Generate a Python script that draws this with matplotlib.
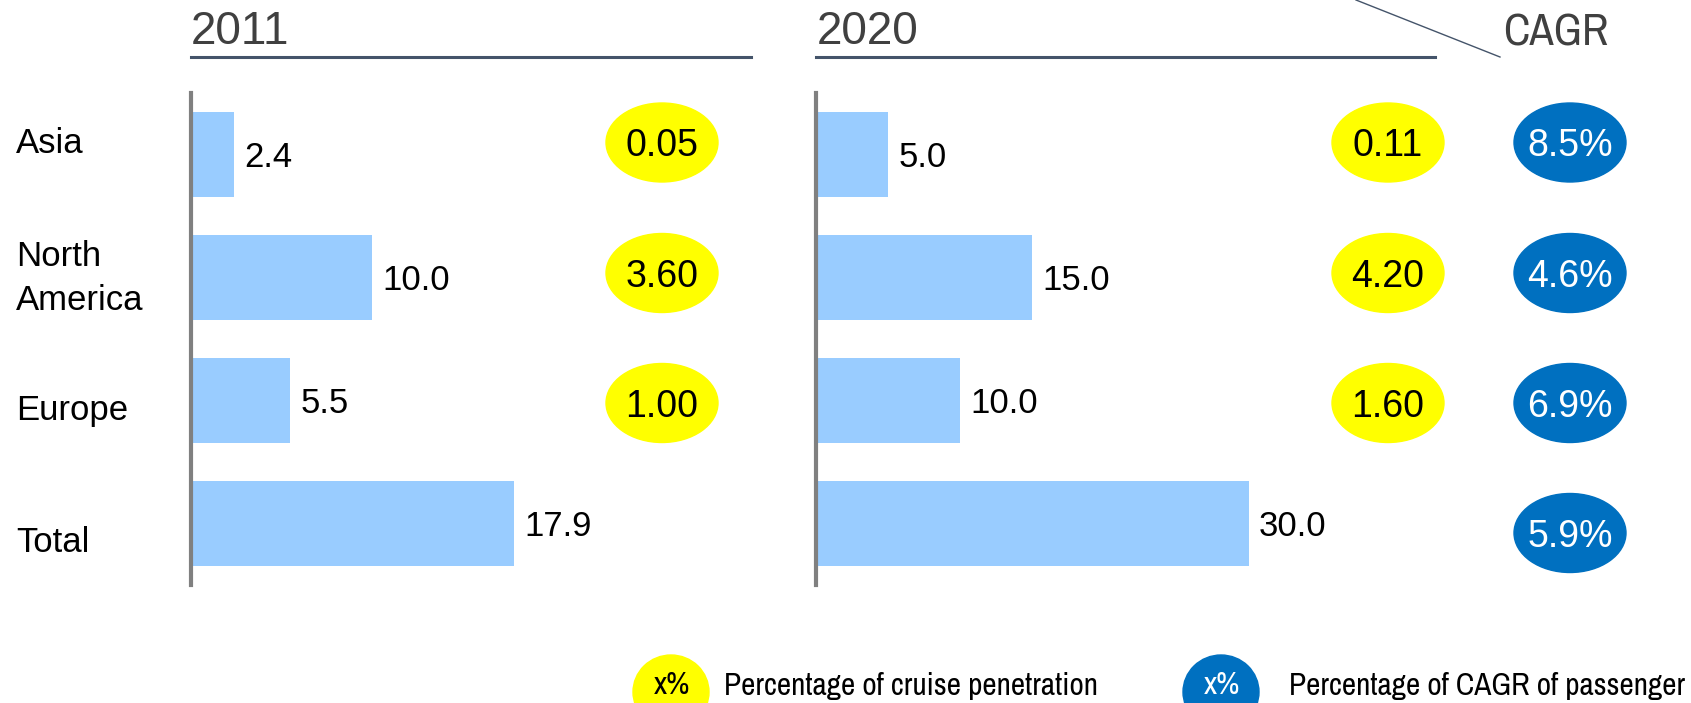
import matplotlib
matplotlib.use("Agg")
import matplotlib.pyplot as plt
from matplotlib.patches import Ellipse

plt.rcParams['font.family'] = ['Liberation Sans', 'DejaVu Sans']
NARROW = ['Archivo Narrow', 'Roboto Condensed', 'Liberation Sans']

# data
regions = ['Asia', 'North\nAmerica', 'Europe', 'Total']
pax_2011 = [2.4, 10.0, 5.5, 17.9]
pax_2020 = [5.0, 15.0, 10.0, 30.0]
penetration_2011 = ['0.05', '3.60', '1.00']
penetration_2020 = ['0.11', '4.20', '1.60']
cagr = ['8.5%', '4.6%', '6.9%', '5.9%']

W, H = 1691, 703
fig = plt.figure(figsize=(W / 100, H / 100), dpi=100)

BAR = '#99CCFF'
YEL = '#FFFF00'
BLUE = '#0070C0'
LINE = '#44546A'
TXT = '#404040'


def px_axes(left, top, width, height):
    return fig.add_axes([left / W, 1 - (top + height) / H, width / W, height / H])


def bar_panel(left, width, scale, values):
    ax = px_axes(left, 93, width, 492)
    ax.barh(range(len(values)), values, height=0.69, color=BAR, zorder=1)
    ax.set_ylim(3.5, -0.5)
    ax.set_xlim(0, width / scale)
    for s in ['top', 'right', 'bottom']:
        ax.spines[s].set_visible(False)
    ax.spines['left'].set_color('#808080')
    ax.spines['left'].set_linewidth(3)
    ax.set_xticks([])
    ax.set_yticks([])
    ax.patch.set_alpha(0)
    for i, v in enumerate(values):
        ax.annotate(f'{v:.1f}', (v, i), xytext=(7.5, -9), textcoords='offset points',
                    va='baseline', ha='left', fontsize=25, color='black')
    return ax


ax1 = bar_panel(191, 560, 18.05, pax_2011)
ax2 = bar_panel(816, 620, 14.42, pax_2020)

# overlay for titles, labels, bubbles (pixel coordinates)
ov = fig.add_axes([0, 0, 1, 1])
ov.set_xlim(0, W)
ov.set_ylim(H, 0)
ov.axis('off')
ov.patch.set_alpha(0)

ov.text(191, 44, '2011', fontsize=33, color=TXT, va='baseline', ha='left')
ov.text(817, 44, '2020', fontsize=33, color=TXT, va='baseline', ha='left')
ov.plot([191, 751], [57, 57], color=LINE, lw=2.2)
ov.plot([816, 1435], [57, 57], color=LINE, lw=2.2)
ov.plot([1356, 1500], [0, 57], color=LINE, lw=1.0)
ov.text(1503, 45, 'CAGR', fontsize=32, color=TXT, va='baseline', ha='left', family=NARROW)

rows = [142.5, 273, 403, 533]
# baseline of the last line of each label
label_base = [153, 310, 420, 552]
for lab, y in zip(regions, label_base):
    ov.text(16, y, lab, fontsize=25, color='black', va='baseline', ha='left', linespacing=1.43)

for col_x, vals in [(662, penetration_2011), (1388, penetration_2020)]:
    for v, y in zip(vals, rows):
        ov.add_patch(Ellipse((col_x, y), 112, 79, color=YEL, zorder=2))
        ov.text(col_x, y + 14, v, fontsize=27, color='black', ha='center', va='baseline', zorder=3)

for v, y in zip(cagr, rows):
    ov.add_patch(Ellipse((1570, y), 112, 79, color=BLUE, zorder=2))
    ov.text(1570, y + 14, v, fontsize=27, color='white', ha='center', va='baseline', zorder=3)

# legend
ov.add_patch(Ellipse((671, 692), 76, 74, color=YEL, zorder=2))
ov.text(672, 694, 'x%', fontsize=23, color='black', ha='center', va='baseline', family=NARROW, zorder=3)
ov.text(724, 695, 'Percentage of cruise penetration', fontsize=22.5, color='black',
        ha='left', va='baseline', family=NARROW)
ov.add_patch(Ellipse((1221, 692), 76, 74, color=BLUE, zorder=2))
ov.text(1222, 694, 'x%', fontsize=23, color='white', ha='center', va='baseline', family=NARROW, zorder=3)
ov.text(1289, 695, 'Percentage of CAGR of passenger', fontsize=22.5, color='black',
        ha='left', va='baseline', family=NARROW)

fig.savefig('out.png', dpi=100)
